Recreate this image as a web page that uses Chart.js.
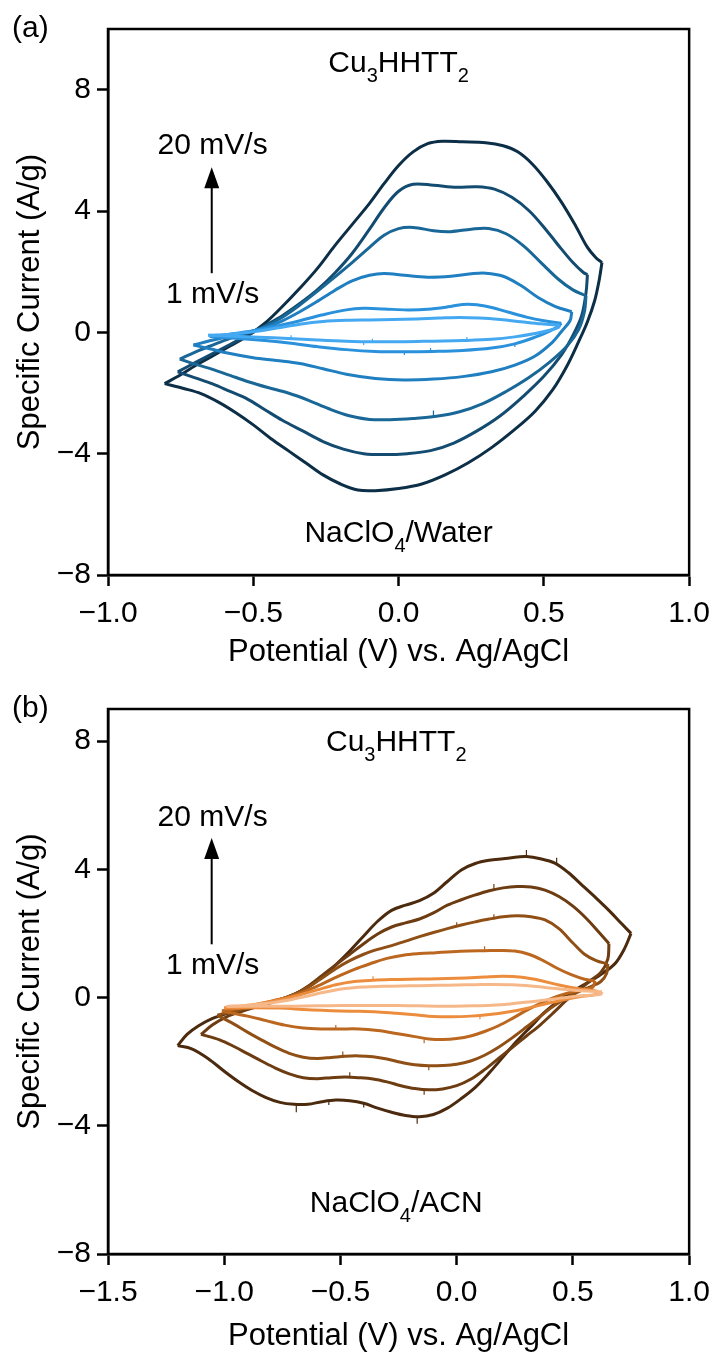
<!DOCTYPE html>
<html>
<head>
<meta charset="utf-8">
<script src="https://cdn.jsdelivr.net/npm/chart.js@4.4.1/dist/chart.umd.min.js"></script>
<style>
  html, body { margin: 0; padding: 0; background: #fff; }
  #wrap { position: relative; width: 720px; height: 1352px; }
  canvas { position: absolute; left: 0; }
  #cvA { top: 0; }
  #cvB { top: 672px; }
</style>
</head>
<body>
<div id="wrap">
  <canvas id="cvA" width="720" height="672"></canvas>
  <canvas id="cvB" width="720" height="680"></canvas>
</div>
<script>
// CV loops of Cu3HHTT2, [potential (V vs Ag/AgCl), specific current (A/g)].
// Each loop runs left vertex -> anodic sweep -> right vertex -> cathodic sweep.

// (a) NaClO4 / water
const water1 = [[-0.655,-0.10],[-0.58,-0.06],[-0.50,0.02],[-0.42,0.14],[-0.34,0.27],[-0.26,0.36],[-0.18,0.40],[-0.10,0.41],[-0.02,0.42],[0.06,0.44],[0.14,0.47],[0.21,0.49],[0.28,0.47],[0.35,0.42],[0.42,0.35],[0.49,0.28],[0.555,0.24],
  [0.55,0.16],[0.52,0.07],[0.47,-0.04],[0.40,-0.15],[0.32,-0.23],[0.22,-0.27],[0.12,-0.29],[0.02,-0.31],[-0.08,-0.31],[-0.18,-0.29],[-0.28,-0.25],[-0.38,-0.20],[-0.48,-0.16],[-0.57,-0.13],[-0.655,-0.10]];
const water2 = [[-0.65,-0.14],[-0.58,-0.06],[-0.50,0.05],[-0.42,0.20],[-0.34,0.38],[-0.26,0.58],[-0.18,0.74],[-0.12,0.79],[-0.05,0.77],[0.03,0.74],[0.10,0.76],[0.17,0.84],[0.22,0.92],[0.27,0.91],[0.32,0.82],[0.38,0.66],[0.44,0.50],[0.50,0.38],[0.56,0.30],
  [0.55,0.20],[0.52,0.04],[0.47,-0.16],[0.40,-0.38],[0.32,-0.52],[0.22,-0.60],[0.12,-0.63],[0.02,-0.64],[-0.08,-0.63],[-0.18,-0.57],[-0.28,-0.47],[-0.37,-0.36],[-0.46,-0.27],[-0.55,-0.20],[-0.65,-0.14]];
const water5 = [[-0.706,-0.42],[-0.65,-0.28],[-0.58,-0.12],[-0.52,0.0],[-0.46,0.15],[-0.40,0.38],[-0.34,0.68],[-0.28,1.02],[-0.22,1.38],[-0.16,1.70],[-0.10,1.88],[-0.05,1.94],[0.02,1.88],[0.10,1.82],[0.18,1.85],[0.25,1.93],[0.30,1.95],[0.36,1.85],[0.42,1.55],[0.48,1.15],[0.54,0.85],[0.596,0.68],
  [0.59,0.38],[0.56,0.02],[0.53,-0.32],[0.47,-0.78],[0.40,-1.08],[0.32,-1.30],[0.22,-1.46],[0.12,-1.54],[0.02,-1.57],[-0.08,-1.52],[-0.18,-1.38],[-0.26,-1.20],[-0.34,-1.03],[-0.42,-0.93],[-0.50,-0.84],[-0.58,-0.70],[-0.65,-0.54],[-0.706,-0.42]];
const water10 = [[-0.753,-0.88],[-0.70,-0.65],[-0.64,-0.42],[-0.58,-0.20],[-0.52,-0.02],[-0.46,0.20],[-0.40,0.50],[-0.34,0.90],[-0.28,1.35],[-0.22,1.82],[-0.16,2.30],[-0.10,2.80],[-0.05,3.20],[0.0,3.42],[0.05,3.46],[0.12,3.35],[0.18,3.32],[0.25,3.40],[0.31,3.42],[0.37,3.25],[0.43,2.85],[0.49,2.30],[0.55,1.75],[0.60,1.40],[0.645,1.20],
  [0.64,0.70],[0.62,0.10],[0.58,-0.45],[0.52,-0.98],[0.45,-1.48],[0.37,-1.95],[0.29,-2.35],[0.21,-2.62],[0.13,-2.77],[0.05,-2.84],[-0.03,-2.88],[-0.10,-2.87],[-0.17,-2.75],[-0.24,-2.52],[-0.31,-2.24],[-0.38,-2.00],[-0.45,-1.82],[-0.52,-1.62],[-0.58,-1.42],[-0.64,-1.22],[-0.70,-1.05],[-0.753,-0.88]];
const water15 = [[-0.76,-1.30],[-0.70,-1.00],[-0.64,-0.70],[-0.58,-0.40],[-0.52,-0.10],[-0.46,0.22],[-0.40,0.55],[-0.34,0.95],[-0.28,1.40],[-0.22,1.95],[-0.16,2.60],[-0.10,3.40],[-0.05,4.10],[0.0,4.65],[0.05,4.88],[0.12,4.85],[0.20,4.78],[0.27,4.80],[0.33,4.72],[0.39,4.45],[0.45,4.00],[0.51,3.35],[0.56,2.75],[0.60,2.30],[0.635,1.98],[0.65,1.90],
  [0.645,1.30],[0.63,0.55],[0.60,-0.10],[0.56,-0.75],[0.50,-1.45],[0.43,-2.10],[0.35,-2.75],[0.27,-3.25],[0.19,-3.65],[0.11,-3.90],[0.03,-4.00],[-0.05,-4.03],[-0.12,-4.00],[-0.19,-3.85],[-0.26,-3.60],[-0.33,-3.25],[-0.40,-2.90],[-0.46,-2.55],[-0.52,-2.20],[-0.58,-1.95],[-0.64,-1.70],[-0.70,-1.50],[-0.76,-1.30]];
const water20 = [[-0.805,-1.69],[-0.75,-1.40],[-0.70,-1.10],[-0.64,-0.78],[-0.58,-0.45],[-0.52,-0.12],[-0.46,0.30],[-0.40,0.85],[-0.34,1.45],[-0.28,2.10],[-0.22,2.85],[-0.16,3.55],[-0.10,4.25],[-0.05,4.90],[0.0,5.50],[0.05,5.95],[0.10,6.22],[0.15,6.30],[0.22,6.28],[0.30,6.25],[0.36,6.15],[0.41,5.95],[0.46,5.55],[0.51,4.98],[0.56,4.30],[0.61,3.50],[0.65,2.80],[0.68,2.45],[0.70,2.30],
  [0.69,1.70],[0.675,1.05],[0.65,0.35],[0.62,-0.30],[0.58,-1.10],[0.53,-1.90],[0.47,-2.60],[0.40,-3.20],[0.32,-3.80],[0.24,-4.30],[0.16,-4.70],[0.08,-5.00],[0.0,-5.15],[-0.08,-5.22],[-0.14,-5.20],[-0.20,-5.00],[-0.26,-4.70],[-0.32,-4.30],[-0.38,-3.90],[-0.44,-3.50],[-0.50,-3.05],[-0.56,-2.65],[-0.62,-2.30],[-0.68,-2.02],[-0.74,-1.85],[-0.805,-1.69]];

// (b) NaClO4 / acetonitrile
const acn1 = [[-0.99,-0.28],[-0.90,-0.24],[-0.80,-0.17],[-0.72,-0.08],[-0.64,0.05],[-0.56,0.18],[-0.48,0.28],[-0.40,0.33],[-0.32,0.35],[-0.24,0.36],[-0.16,0.37],[-0.08,0.38],[0.0,0.39],[0.08,0.40],[0.16,0.41],[0.24,0.40],[0.32,0.36],[0.40,0.30],[0.48,0.24],[0.56,0.20],[0.625,0.18],
  [0.62,0.10],[0.55,0.06],[0.47,0.0],[0.39,-0.07],[0.31,-0.14],[0.23,-0.20],[0.15,-0.24],[0.07,-0.26],[-0.01,-0.27],[-0.09,-0.27],[-0.17,-0.26],[-0.25,-0.25],[-0.33,-0.25],[-0.41,-0.25],[-0.50,-0.25],[-0.60,-0.26],[-0.70,-0.27],[-0.80,-0.27],[-0.90,-0.27],[-0.99,-0.28]];
const acn2 = [[-1.0,-0.33],[-0.92,-0.27],[-0.84,-0.18],[-0.76,-0.07],[-0.68,0.07],[-0.60,0.24],[-0.52,0.40],[-0.44,0.50],[-0.36,0.54],[-0.28,0.56],[-0.20,0.57],[-0.12,0.58],[-0.04,0.59],[0.04,0.61],[0.12,0.64],[0.20,0.66],[0.28,0.63],[0.36,0.53],[0.44,0.39],[0.52,0.28],[0.605,0.20],
  [0.60,0.10],[0.54,0.04],[0.46,-0.07],[0.38,-0.20],[0.30,-0.34],[0.22,-0.45],[0.14,-0.53],[0.06,-0.58],[-0.02,-0.60],[-0.10,-0.59],[-0.18,-0.54],[-0.26,-0.49],[-0.34,-0.45],[-0.42,-0.43],[-0.50,-0.42],[-0.58,-0.40],[-0.66,-0.37],[-0.76,-0.33],[-0.88,-0.32],[-1.0,-0.33]];
const acn5 = [[-1.01,-0.42],[-0.93,-0.33],[-0.86,-0.22],[-0.79,-0.10],[-0.72,0.03],[-0.65,0.20],[-0.58,0.42],[-0.51,0.66],[-0.44,0.88],[-0.37,1.06],[-0.30,1.22],[-0.23,1.32],[-0.16,1.37],[-0.09,1.40],[-0.02,1.43],[0.05,1.45],[0.12,1.46],[0.19,1.47],[0.25,1.45],[0.31,1.35],[0.37,1.16],[0.43,0.92],[0.49,0.72],[0.55,0.57],[0.595,0.52],
  [0.585,0.32],[0.54,0.24],[0.48,0.14],[0.42,0.0],[0.36,-0.18],[0.30,-0.40],[0.24,-0.65],[0.18,-0.88],[0.12,-1.06],[0.06,-1.20],[0.0,-1.28],[-0.06,-1.31],[-0.12,-1.29],[-0.18,-1.22],[-0.26,-1.12],[-0.34,-1.03],[-0.42,-0.98],[-0.50,-0.98],[-0.58,-0.98],[-0.66,-0.95],[-0.74,-0.86],[-0.82,-0.72],[-0.90,-0.58],[-1.01,-0.42]];
const acn10 = [[-1.03,-0.55],[-0.97,-0.45],[-0.90,-0.33],[-0.83,-0.20],[-0.76,-0.06],[-0.70,0.10],[-0.64,0.32],[-0.58,0.60],[-0.52,0.90],[-0.46,1.15],[-0.40,1.35],[-0.34,1.50],[-0.28,1.62],[-0.22,1.76],[-0.16,1.90],[-0.10,2.03],[-0.04,2.15],[0.02,2.26],[0.08,2.36],[0.14,2.45],[0.20,2.52],[0.26,2.55],[0.32,2.52],[0.38,2.42],[0.44,2.15],[0.50,1.70],[0.55,1.35],[0.60,1.15],[0.65,1.05],
  [0.645,0.75],[0.62,0.50],[0.58,0.35],[0.53,0.20],[0.48,0.02],[0.42,-0.25],[0.36,-0.58],[0.30,-0.92],[0.24,-1.25],[0.18,-1.55],[0.12,-1.80],[0.06,-1.98],[0.0,-2.08],[-0.06,-2.12],[-0.12,-2.13],[-0.18,-2.10],[-0.24,-2.02],[-0.30,-1.92],[-0.36,-1.85],[-0.42,-1.82],[-0.48,-1.83],[-0.54,-1.87],[-0.60,-1.90],[-0.66,-1.86],[-0.72,-1.74],[-0.78,-1.55],[-0.84,-1.32],[-0.90,-1.08],[-0.96,-0.82],[-1.03,-0.55]];
const acn15 = [[-1.10,-1.15],[-1.05,-0.85],[-0.99,-0.60],[-0.92,-0.42],[-0.85,-0.27],[-0.78,-0.12],[-0.71,0.05],[-0.64,0.35],[-0.58,0.68],[-0.52,1.02],[-0.46,1.35],[-0.40,1.68],[-0.34,1.98],[-0.28,2.20],[-0.22,2.33],[-0.16,2.45],[-0.10,2.64],[-0.04,2.88],[0.02,3.05],[0.08,3.20],[0.14,3.33],[0.20,3.42],[0.26,3.46],[0.32,3.45],[0.38,3.35],[0.44,3.15],[0.50,2.85],[0.56,2.45],[0.61,2.05],[0.655,1.68],
  [0.65,1.20],[0.62,0.78],[0.57,0.50],[0.52,0.20],[0.47,-0.10],[0.42,-0.45],[0.36,-0.85],[0.30,-1.20],[0.24,-1.55],[0.18,-1.90],[0.12,-2.25],[0.06,-2.55],[0.0,-2.75],[-0.06,-2.85],[-0.12,-2.88],[-0.18,-2.84],[-0.24,-2.75],[-0.30,-2.63],[-0.36,-2.54],[-0.42,-2.50],[-0.48,-2.48],[-0.54,-2.50],[-0.60,-2.53],[-0.66,-2.50],[-0.72,-2.38],[-0.78,-2.20],[-0.84,-1.98],[-0.90,-1.75],[-0.96,-1.52],[-1.02,-1.32],[-1.10,-1.15]];
const acn20 = [[-1.20,-1.50],[-1.16,-1.15],[-1.11,-0.88],[-1.05,-0.65],[-0.98,-0.48],[-0.91,-0.34],[-0.84,-0.22],[-0.77,-0.08],[-0.70,0.10],[-0.64,0.32],[-0.58,0.64],[-0.52,1.02],[-0.46,1.45],[-0.40,1.92],[-0.34,2.38],[-0.28,2.72],[-0.22,2.88],[-0.16,3.02],[-0.10,3.25],[-0.04,3.62],[0.02,3.98],[0.08,4.18],[0.14,4.28],[0.20,4.33],[0.26,4.38],[0.30,4.40],[0.36,4.33],[0.42,4.20],[0.48,3.90],[0.54,3.50],[0.60,3.10],[0.66,2.68],[0.71,2.30],[0.75,2.00],
  [0.72,1.50],[0.68,1.05],[0.62,0.72],[0.56,0.45],[0.50,0.20],[0.44,-0.10],[0.38,-0.45],[0.32,-0.90],[0.26,-1.35],[0.20,-1.85],[0.14,-2.35],[0.08,-2.80],[0.02,-3.15],[-0.04,-3.45],[-0.10,-3.65],[-0.16,-3.72],[-0.22,-3.68],[-0.28,-3.58],[-0.34,-3.45],[-0.40,-3.30],[-0.46,-3.22],[-0.52,-3.20],[-0.58,-3.25],[-0.64,-3.33],[-0.70,-3.33],[-0.76,-3.27],[-0.82,-3.12],[-0.88,-2.90],[-0.94,-2.62],[-1.0,-2.30],[-1.07,-1.90],[-1.14,-1.60],[-1.20,-1.50]];

// noise spikes on the traces: [potential, trace current, spike end]
const waterSpikes1 = [[-0.37,-0.20,-0.10],[-0.12,-0.31,-0.42],[-0.09,-0.31,-0.21],[0.235,-0.27,-0.15]];
const waterSpikes2 = [[0.02,-0.64,-0.75],[0.11,-0.63,-0.52],[0.40,-0.38,-0.48]];
const waterSpikes10 = [[0.12,-2.77,-2.58]];
const acnSpikes2 = [[-0.36,0.54,0.66],[0.10,-0.56,-0.68]];
const acnSpikes5 = [[0.12,1.46,1.60],[-0.14,-1.30,-1.43],[-0.52,-0.98,-0.86]];
const acnSpikes10 = [[0.0,2.21,2.35],[0.16,2.47,2.60],[-0.49,-1.83,-1.68],[-0.12,-2.13,-2.27]];
const acnSpikes15 = [[0.16,3.36,3.54],[-0.14,-2.88,-3.03],[-0.46,-2.48,-2.33]];
const acnSpikes20 = [[0.30,4.40,4.60],[0.43,4.18,4.36],[-0.69,-3.33,-3.58],[-0.55,-3.20,-3.35],[-0.17,-3.72,-3.94],[-0.40,-3.30,-3.43]];

const waterColors = ['#45a9f2', '#2a91dc', '#1f7fc1', '#196797', '#134c70', '#0c2f47'];
const acnColors = ['#f6b889', '#ec8d3e', '#bb671f', '#904f15', '#6d3c11', '#4c2a0e'];

const FAMILY = "'Liberation Sans', Arial, Helvetica, sans-serif";

function loopDatasets(points, color) {
  // split at the right vertex so the spline does not round off the turn
  let k = 0;
  points.forEach((p, i) => { if (p[0] > points[k][0]) k = i; });
  const xy = (arr) => arr.map(([x, y]) => ({ x, y }));
  const base = { borderColor: color, backgroundColor: color, borderWidth: 3, pointRadius: 0, showLine: true, tension: 0.35, fill: false };
  return [
    { ...base, data: xy(points.slice(0, k + 1)) },
    { ...base, data: xy(points.slice(k)) },
  ];
}

function spikeDataset(spikes, color) {
  const data = [];
  for (const [v, a, b] of spikes) {
    data.push({ x: v, y: a }, { x: v, y: b }, { x: v, y: null });
  }
  return { data, borderColor: color, borderWidth: 1.2, pointRadius: 0, showLine: true, tension: 0, spanGaps: false };
}

const fmtV = (v) => (v < 0 ? "\u2212" : "") + Math.abs(v).toFixed(1);
const fmtI = (v) => (v < 0 ? "\u2212" + Math.abs(v) : String(v));

// frame, panel tag, annotations and the scan-rate arrow
const notes = {
  id: "notes",
  afterDraw(chart, args, opts) {
    const { ctx, chartArea: a, scales: { x, y } } = chart;
    ctx.save();
    ctx.strokeStyle = "#000";
    ctx.lineWidth = 2.5;
    ctx.strokeRect(a.left, a.top, a.right - a.left, a.bottom - a.top);

    ctx.fillStyle = "#000";
    ctx.textBaseline = "alphabetic";
    ctx.textAlign = "left";
    ctx.font = `30px ${FAMILY}`;
    ctx.fillText(opts.tag, 12, a.top + 8);

    for (const n of opts.labels) {
      let w = 0;
      for (const [s, sub] of n.parts) {
        ctx.font = sub ? `20px ${FAMILY}` : `30px ${FAMILY}`;
        w += ctx.measureText(s).width;
      }
      let px = x.getPixelForValue(n.x) - w / 2;
      const py = y.getPixelForValue(n.y);
      for (const [s, sub] of n.parts) {
        ctx.font = sub ? `20px ${FAMILY}` : `30px ${FAMILY}`;
        ctx.fillText(s, px, sub ? py + 10 : py);
        px += ctx.measureText(s).width;
      }
    }

    const ar = opts.arrow;
    const ax = x.getPixelForValue(ar.x);
    const y0 = y.getPixelForValue(ar.from);
    const y1 = y.getPixelForValue(ar.to);
    ctx.lineWidth = 2;
    ctx.beginPath();
    ctx.moveTo(ax, y0);
    ctx.lineTo(ax, y1 + 18);
    ctx.stroke();
    ctx.beginPath();
    ctx.moveTo(ax, y1);
    ctx.lineTo(ax - 7.5, y1 + 21);
    ctx.lineTo(ax + 7.5, y1 + 21);
    ctx.closePath();
    ctx.fill();
    ctx.restore();
  },
};

function panelOptions(cfg) {
  const tickFont = { family: FAMILY, size: 30 };
  return {
    responsive: false,
    animation: false,
    devicePixelRatio: 1,
    layout: { padding: { left: 0, right: 23, top: cfg.top, bottom: 0 } },
    plugins: {
      legend: { display: false },
      tooltip: { enabled: false },
      notes: { tag: cfg.tag, labels: cfg.labels, arrow: cfg.arrow },
    },
    scales: {
      x: {
        type: "linear",
        min: cfg.xMin,
        max: cfg.xMax,
        afterFit: (s) => { s.height = cfg.xAxisHeight; },
        ticks: { stepSize: 0.5, includeBounds: false, autoSkip: false, maxRotation: 0, callback: fmtV, font: tickFont, color: "#000", padding: 10 },
        grid: { drawOnChartArea: false, drawTicks: true, tickLength: 11, tickWidth: 2.5, tickColor: "#000" },
        border: { display: true, color: "#000", width: 2.5 },
        title: { display: true, text: "Potential (V) vs. Ag/AgCl", color: "#000", font: { family: FAMILY, size: 31, lineHeight: 1 }, padding: { top: 0, bottom: cfg.titlePad } },
      },
      y: {
        type: "linear",
        min: cfg.yMin,
        max: cfg.yMax,
        afterFit: (s) => { s.width = 108; },
        ticks: { stepSize: 4, includeBounds: false, autoSkip: false, callback: fmtI, font: tickFont, color: "#000", padding: 6 },
        grid: { drawOnChartArea: false, drawTicks: true, tickLength: 11, tickWidth: 2.5, tickColor: "#000" },
        border: { display: true, color: "#000", width: 2.5 },
        title: { display: true, text: "Specific Current (A/g)", color: "#000", font: { family: FAMILY, size: 31, lineHeight: 1 }, padding: { top: 15, bottom: 0 } },
      },
    },
  };
}

function buildDatasets(loops, spikes, colors) {
  const sets = [];
  loops.forEach((loop, i) => {
    if (spikes[i]) sets.push(spikeDataset(spikes[i], colors[i]));
    sets.push(...loopDatasets(loop, colors[i]));
  });
  return sets;
}

Chart.register(notes);

// slowest scan first so its trace sits on top
new Chart(document.getElementById("cvA"), {
  type: "scatter",
  data: {
    datasets: buildDatasets(
      [water1, water2, water5, water10, water15, water20],
      [waterSpikes1, waterSpikes2, null, waterSpikes10, null, null],
      waterColors
    ),
  },
  options: panelOptions({
    tag: "(a)", top: 29, xAxisHeight: 97, titlePad: 4,
    xMin: -1, xMax: 1, yMin: -8, yMax: 10,
    labels: [
      { x: 0.0, y: 8.57, parts: [["Cu", false], ["3", true], ["HHTT", false], ["2", true]] },
      { x: -0.64, y: 5.87, parts: [["20 mV/s", false]] },
      { x: -0.64, y: 0.97, parts: [["1 mV/s", false]] },
      { x: 0.0, y: -6.9, parts: [["NaClO", false], ["4", true], ["/Water", false]] },
    ],
    arrow: { x: -0.643, from: 1.95, to: 5.44 },
  }),
});

new Chart(document.getElementById("cvB"), {
  type: "scatter",
  data: {
    datasets: buildDatasets(
      [acn1, acn2, acn5, acn10, acn15, acn20],
      [null, acnSpikes2, acnSpikes5, acnSpikes10, acnSpikes15, acnSpikes20],
      acnColors
    ),
  },
  options: panelOptions({
    tag: "(b)", top: 37, xAxisHeight: 98, titlePad: 0,
    xMin: -1.5, xMax: 1, yMin: -8, yMax: 9,
    labels: [
      { x: -0.26, y: 7.69, parts: [["Cu", false], ["3", true], ["HHTT", false], ["2", true]] },
      { x: -1.05, y: 5.35, parts: [["20 mV/s", false]] },
      { x: -1.05, y: 0.74, parts: [["1 mV/s", false]] },
      { x: -0.26, y: -6.7, parts: [["NaClO", false], ["4", true], ["/ACN", false]] },
    ],
    arrow: { x: -1.054, from: 1.66, to: 4.98 },
  }),
});
</script>
</body>
</html>
